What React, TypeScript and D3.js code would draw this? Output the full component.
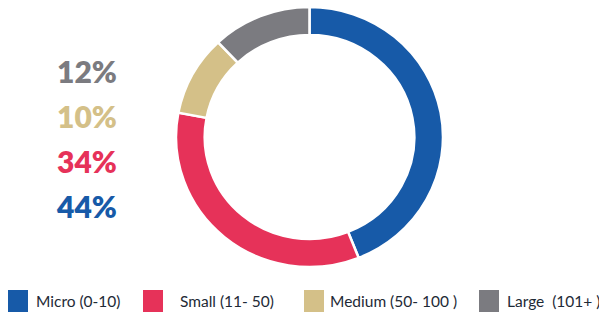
import React from "react";
import * as d3 from "d3";

const categories = ["Micro (0-10)", "Small (11- 50)", "Medium (50- 100 )", "Large  (101+ )"];
const values = [44, 34, 10, 12];
const colors = ["#175aa8", "#e63259", "#d4c088", "#7b7b80"];
// percent labels are listed top to bottom, in reverse order
const labelOrder = [3, 2, 1, 0];

const W = 599, H = 312;

export default function App() {
  const cx = 309.5, cy = 137;
  const outerR = 130, innerR = 102;

  const pie = d3.pie<number>().sort(null).value(d => d);
  const arcs = pie(values);
  const arc = d3.arc<d3.PieArcDatum<number>>().innerRadius(innerR).outerRadius(outerR);

  const yLabel = d3.scalePoint<number>().domain(labelOrder).range([83, 218]);

  const boxX = [8, 143, 304, 479];
  const textX = [36, 180, 330, 507];

  return (
    <svg width={W} height={H} style={{ position: "absolute", left: 0, top: 0, display: "block" }}>
      <rect width={W} height={H} fill="#fff" />
      <g transform={`translate(${cx},${cy}) scale(1.027,1)`}>
        {arcs.map((a, i) => (
          <path key={i} d={arc(a) || ""} fill={colors[i]} stroke="#fff" strokeWidth={2.5} />
        ))}
      </g>
      <g fontFamily="Lato" fontWeight={800} fontSize={30}>
        {labelOrder.map(i => (
          <text key={i} x={57} y={yLabel(i)} fill={colors[i]}>{values[i]}%</text>
        ))}
      </g>
      <g fontFamily="Lato" fontSize={15.5} fill="#1e2a36">
        {categories.map((c, i) => (
          <g key={c}>
            <rect x={boxX[i]} y={290} width={20} height={24} fill={colors[i]} />
            <text x={textX[i]} y={307} style={{ whiteSpace: "pre" }}>{c}</text>
          </g>
        ))}
      </g>
    </svg>
  );
}
